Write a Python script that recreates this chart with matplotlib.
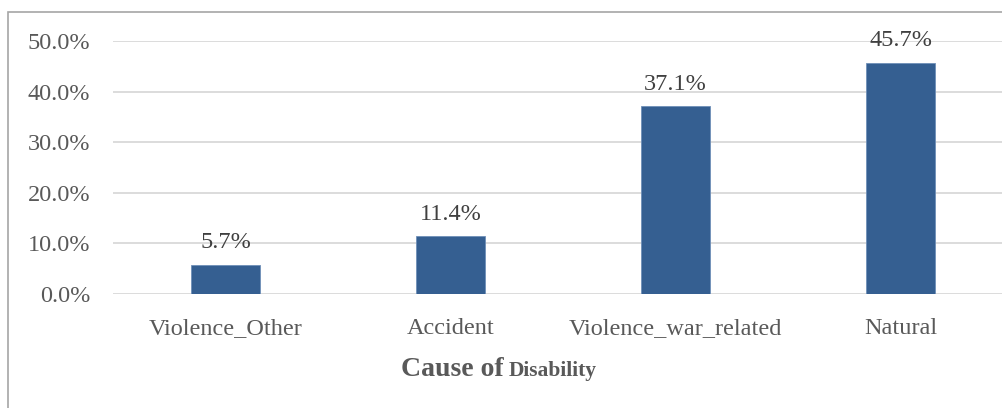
import matplotlib
matplotlib.use("Agg")
import matplotlib.pyplot as plt
from matplotlib.patches import Rectangle
from matplotlib.ticker import PercentFormatter

causes = ["Violence_Other", "Accident", "Violence_war_related", "Natural"]
shares = [5.7, 11.4, 37.1, 45.7]
y_ticks = [0, 10, 20, 30, 40, 50]

bar_color = "#355f91"
text_color = "#595959"
grid_color = "#d9d9d9"

plt.rcParams["font.family"] = ["Liberation Serif"]

fig = plt.figure(figsize=(10.02, 4.08), dpi=100)
W, H = 1002, 408

# outer chart frame (runs off the right and bottom edges)
fig.patches.append(Rectangle((8 / W, -0.1), 1.2, 1 - 12 / H + 0.1,
                             transform=fig.transFigure, fill=False,
                             edgecolor="#a6a6a6", linewidth=1.2))

# plot area: 225 px per category, wider than the canvas on the right
ax = fig.add_axes([113 / W, 1 - 294 / H, 900 / W, (294 - 41) / H])
x = range(len(causes))
bars = ax.bar(x, shares, width=0.31, color=bar_color,
              edgecolor="#6f8fb8", linewidth=0.6, zorder=3)

for b, v in zip(bars, shares):
    ax.annotate(f"{v:.1f}%", (b.get_x() + b.get_width() / 2, v),
                xytext=(0, 12), textcoords="offset points",
                ha="center", va="baseline", fontsize=17.5, color="#404040",
                zorder=4)

ax.set_xlim(-0.5, len(causes) - 0.5)
ax.set_ylim(0, 50)
ax.set_yticks(y_ticks)
ax.yaxis.set_major_formatter(PercentFormatter(decimals=1))
ax.set_xticks(list(x))
ax.set_xticklabels(causes)
ax.tick_params(axis="both", length=0, labelsize=17.5, labelcolor=text_color)
ax.tick_params(axis="y", pad=16.5)
ax.tick_params(axis="x", pad=17.5)
ax.grid(axis="y", color=grid_color, linewidth=1.3, zorder=0)
for s in ax.spines.values():
    s.set_visible(False)

fig.text(504 / W, 1 - 376 / H, "Cause of", ha="right", va="baseline",
         fontsize=20, fontweight="bold", color=text_color)
fig.text(509 / W, 1 - 376 / H, "Disability", ha="left", va="baseline",
         fontsize=15.5, fontweight="bold", color=text_color)

fig.savefig("out.png", dpi=100)
